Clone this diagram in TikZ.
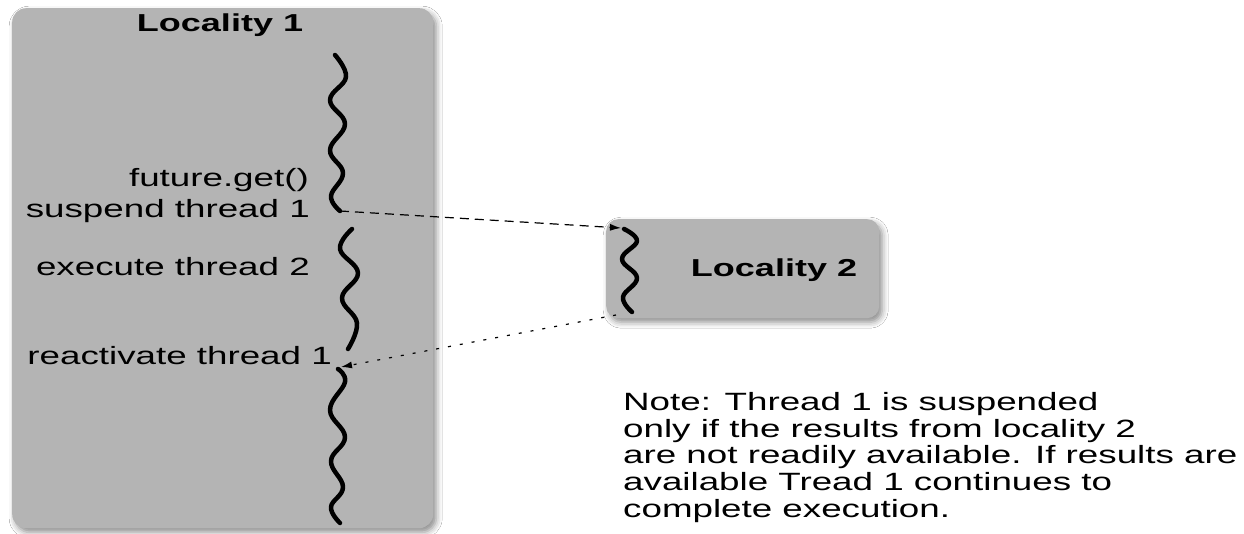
\documentclass[tikz,border=0pt]{standalone}
\usepackage{fontspec}
\setmainfont{Liberation Sans}
\newfontfamily\widefont[FakeStretch=1.47]{Liberation Sans}
\usetikzlibrary{arrows.meta,shadows.blur}
\definecolor{boxgray}{HTML}{B4B4B4}
\begin{document}
\begin{tikzpicture}[x=1pt,y=-1pt,
  locality/.style={draw=none, fill=boxgray, rounded corners=14pt, inner sep=0pt,
    blur shadow={shadow xshift=3pt, shadow yshift=-4pt, shadow blur radius=6pt, shadow opacity=45}},
  title/.style={inner sep=0pt, anchor=base, font=\widefont\bfseries\fontsize{24.5}{27}\selectfont},
  steplabel/.style={inner sep=0pt, anchor=base east, font=\widefont\fontsize{25}{27}\selectfont},
  notetext/.style={inner sep=0pt, anchor=north west, align=left, font=\widefont\fontsize{25}{26.8}\selectfont},
  wave/.style={line width=4.5pt, line cap=round, line join=round},
  callarrow/.style={line width=1.2pt, dash pattern=on 9pt off 6pt, -{Latex[length=11pt,width=7pt]}},
  replyarrow/.style={line width=1.2pt, dash pattern=on 3pt off 9pt, -{Latex[length=11pt,width=7pt]}}]
\useasboundingbox[fill=white] (0,0) rectangle (1244,534);

% the two localities
\node[locality, minimum width=421pt, minimum height=520pt, anchor=north west] (loc1) at (12,8) {};
\node[locality, rounded corners=12pt, minimum width=273pt, minimum height=99pt, anchor=north west] (loc2) at (606,219) {};

\node[title] (t1) at (220,32) {Locality 1};
\node[title] (t2) at (774,277) {Locality 2};

% thread timelines in locality 1
\draw[wave] plot[smooth, tension=0.7] coordinates {(335,55) (346,77) (330,100) (345,124) (330,150) (343,173) (331,196) (340,211)};
\draw[wave] plot[smooth, tension=0.7] coordinates {(352,229) (340,249) (358,273) (342,298) (357,323) (348,349)};
\draw[wave] plot[smooth, tension=0.7] coordinates {(338,369) (345,382) (330,410) (345,437) (331,461) (343,487) (331,507) (340,523)};
% thread in locality 2
\draw[wave] plot[smooth, tension=0.7] coordinates {(624,229) (637,241) (622,259) (637,278) (623,297) (632,312)};

\coordinate (suspend) at (340,211);
\coordinate (remote) at (621,228);
\coordinate (done) at (616,315);
\coordinate (resume) at (341,367);

\draw[callarrow] (suspend) -- (remote);
\draw[replyarrow] (done) -- (resume);

% labels along the timeline
\node[steplabel] (get) at (309,187) {future.get()};
\node[steplabel] (susp) at (310,218) {suspend thread 1};
\node[steplabel] (exec) at (310,276) {execute thread 2};
\node[steplabel] (react) at (332,364) {reactivate thread 1};

\node[notetext] (note) at (623,392) {Note: Thread 1 is suspended\\
only if the results from locality 2\\
are not readily available. If results are\\
available Tread 1 continues to\\
complete execution.};
\end{tikzpicture}
\end{document}
